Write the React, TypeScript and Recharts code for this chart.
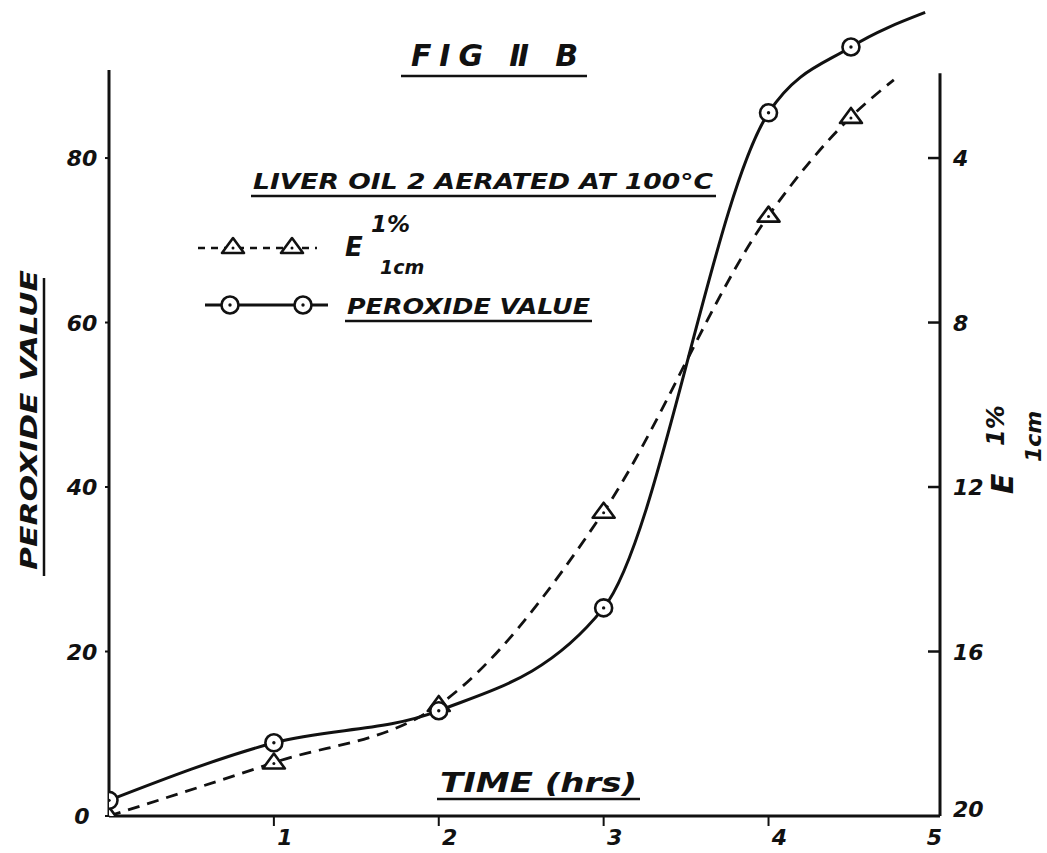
import React from 'react';
import { ComposedChart, Line, XAxis, YAxis, ReferenceLine } from 'recharts';

// sampling times during aeration (hrs)
const hours = [0, 1, 2, 3, 4, 4.5];
// peroxide value, left scale
const peroxideValue = [1.9, 8.9, 12.8, 25.3, 85.5, 93.5];
// E 1% 1cm, right scale (runs downward)
const extinction = [20, 18.7, 17.3, 12.6, 5.4, 3.0];

// the freehand curves run on a little past the last reading
const peroxideTail = { t: 4.95, v: 97.7 };
const extinctionTail = { t: 4.76, v: 2.1 };

const hourTicks = [1, 2, 3, 4, 5];
const peroxideTicks = [0, 20, 40, 60, 80];
const extinctionTicks = [4, 8, 12, 16, 20];

// drawn height of the two vertical axes, in peroxide units
const leftAxisTop = 90.7;
const rightAxisTop = 90.3;

const INK = '#111';
const W = 1047;
const H = 853;

const hand = {
  fontFamily: '"DejaVu Sans", sans-serif',
  fontStyle: 'italic' as const,
  fontWeight: 700,
  fill: INK,
};

const pvPoints = hours.map((t, i) => ({ t, v: peroxideValue[i] }));
const ePoints = hours.map((t, i) => ({ t, v: extinction[i] }));
const pvCurve = [...pvPoints, peroxideTail];
const eCurve = [...ePoints, extinctionTail];

function Ring({ cx, cy }: { cx: number; cy: number }) {
  return (
    <g>
      <circle cx={cx} cy={cy} r={8.5} fill="#fff" stroke={INK} strokeWidth={2.6} />
      <circle cx={cx} cy={cy} r={1.7} fill={INK} />
    </g>
  );
}

function Tri({ cx, cy }: { cx: number; cy: number }) {
  const pts = `${cx},${cy - 9} ${cx + 11},${cy + 6} ${cx - 11},${cy + 6}`;
  return (
    <g>
      <polygon points={pts} fill="#fff" stroke={INK} strokeWidth={2.6} strokeLinejoin="round" />
      <circle cx={cx} cy={cy + 1} r={1.5} fill={INK} />
    </g>
  );
}

function LeftTick({ x, y, payload }: any) {
  return (
    <g>
      <line x1={x - 4} x2={x} y1={y} y2={y} stroke={INK} strokeWidth={2} />
      <text x={x - 27} y={y + 8} textAnchor="middle" fontSize={22} {...hand}>
        {payload.value}
      </text>
    </g>
  );
}

function RightTick({ x, y, payload }: any) {
  const v = payload.value;
  const corner = v === 20;
  return (
    <g>
      {!corner && <line x1={x - 12} x2={x} y1={y} y2={y} stroke={INK} strokeWidth={2.5} />}
      <text x={x + 13} y={y + 8 - (corner ? 7 : 0)} textAnchor="start" fontSize={22} {...hand}>
        {v}
      </text>
    </g>
  );
}

function HourTick({ x, y, payload }: any) {
  const v = payload.value;
  return (
    <g>
      {v !== 5 && <line x1={x} x2={x} y1={y} y2={y + 10} stroke={INK} strokeWidth={2} />}
      <text x={x + (v === 5 ? 1 : 11)} y={y + 29} textAnchor="middle" fontSize={22} {...hand}>
        {v}
      </text>
    </g>
  );
}

function Annotations() {
  return (
    <svg
      width={W}
      height={H}
      style={{ position: 'absolute', left: 0, top: 0, pointerEvents: 'none' }}
    >
      {/* title */}
      <text x={411} y={66} fontSize={30} textLength={167} lengthAdjust="spacing" {...hand}>
        FIG Ⅱ B
      </text>
      <line x1={401} x2={587} y1={76} y2={76} stroke={INK} strokeWidth={2.5} />

      {/* legend heading */}
      <text x={253} y={189} fontSize={21} textLength={460} lengthAdjust="spacingAndGlyphs" {...hand}>
        LIVER OIL 2 AERATED AT 100°C
      </text>
      <line x1={251} x2={716} y1={196} y2={196} stroke={INK} strokeWidth={2.5} />

      {/* legend: E 1% 1cm */}
      <line x1={198} x2={317} y1={248} y2={248} stroke={INK} strokeWidth={2.5} strokeDasharray="7 6" />
      <Tri cx={233} cy={247} />
      <Tri cx={292} cy={247} />
      <text x={345} y={256} fontSize={26} {...hand}>E</text>
      <text x={371} y={232} fontSize={23} {...hand}>1%</text>
      <text x={380} y={274} fontSize={19} {...hand}>1cm</text>

      {/* legend: peroxide value */}
      <line x1={205} x2={328} y1={305} y2={305} stroke={INK} strokeWidth={2.8} />
      <Ring cx={230} cy={305} />
      <Ring cx={303} cy={305} />
      <text x={347} y={314} fontSize={21} textLength={243} lengthAdjust="spacingAndGlyphs" {...hand}>
        PEROXIDE VALUE
      </text>
      <line x1={345} x2={592} y1={321} y2={321} stroke={INK} strokeWidth={2.5} />

      {/* x axis title */}
      <text x={440} y={792} fontSize={26} textLength={197} lengthAdjust="spacingAndGlyphs" {...hand}>
        TIME (hrs)
      </text>
      <line x1={437} x2={640} y1={799} y2={799} stroke={INK} strokeWidth={2.5} />

      {/* left axis title */}
      <text
        transform="translate(37,570) rotate(-90)"
        fontSize={23}
        textLength={300}
        lengthAdjust="spacingAndGlyphs"
        {...hand}
      >
        PEROXIDE VALUE
      </text>
      <line x1={44} x2={44} y1={278} y2={576} stroke={INK} strokeWidth={2.5} />

      {/* right axis title */}
      <text transform="translate(1013,494) rotate(-90)" fontSize={30} {...hand}>E</text>
      <text transform="translate(1004,446) rotate(-90)" fontSize={24} {...hand}>1%</text>
      <text transform="translate(1041,462) rotate(-90)" fontSize={22} {...hand}>1cm</text>
    </svg>
  );
}

export default function App() {
  return (
    <div style={{ position: 'absolute', left: 0, top: 0, width: W, height: H, background: '#fff' }}>
      <ComposedChart width={W} height={H} margin={{ top: 10, right: 47, bottom: 7, left: 49 }}>
        <XAxis
          type="number"
          dataKey="t"
          domain={[0, 5.04]}
          ticks={hourTicks}
          allowDataOverflow
          height={30}
          axisLine={{ stroke: INK, strokeWidth: 3 }}
          tickLine={false}
          tickSize={0}
          tickMargin={0}
          tick={<HourTick />}
        />
        <YAxis
          yAxisId="pv"
          dataKey="v"
          domain={[0, 98]}
          ticks={peroxideTicks}
          allowDataOverflow
          width={60}
          axisLine={false}
          tickLine={false}
          tickSize={0}
          tickMargin={0}
          tick={<LeftTick />}
        />
        <YAxis
          yAxisId="e"
          dataKey="v"
          orientation="right"
          reversed
          domain={[0.4, 20]}
          ticks={extinctionTicks}
          allowDataOverflow
          width={60}
          axisLine={false}
          tickLine={false}
          tickSize={0}
          tickMargin={0}
          tick={<RightTick />}
        />

        <ReferenceLine
          yAxisId="pv"
          segment={[{ x: 0, y: 0 }, { x: 0, y: leftAxisTop }]}
          stroke={INK}
          strokeWidth={3}
        />
        <ReferenceLine
          yAxisId="pv"
          segment={[{ x: 5.04, y: 0 }, { x: 5.04, y: rightAxisTop }]}
          stroke={INK}
          strokeWidth={3}
        />

        {/* smooth curves */}
        <Line
          yAxisId="e"
          data={eCurve}
          dataKey="v"
          type="monotone"
          stroke={INK}
          strokeWidth={2.8}
          strokeDasharray="12 8"
          dot={false}
          activeDot={false}
          isAnimationActive={false}
        />
        <Line
          yAxisId="pv"
          data={pvCurve}
          dataKey="v"
          type="monotone"
          stroke={INK}
          strokeWidth={3}
          dot={false}
          activeDot={false}
          isAnimationActive={false}
        />

        {/* readings */}
        <Line
          yAxisId="e"
          data={ePoints}
          dataKey="v"
          stroke="none"
          dot={(p: any) => <Tri key={`e-${p.index}`} cx={p.cx} cy={p.cy} />}
          activeDot={false}
          isAnimationActive={false}
        />
        <Line
          yAxisId="pv"
          data={pvPoints}
          dataKey="v"
          stroke="none"
          dot={(p: any) => <Ring key={`pv-${p.index}`} cx={p.cx} cy={p.cy} />}
          activeDot={false}
          isAnimationActive={false}
        />
      </ComposedChart>
      <Annotations />
    </div>
  );
}
